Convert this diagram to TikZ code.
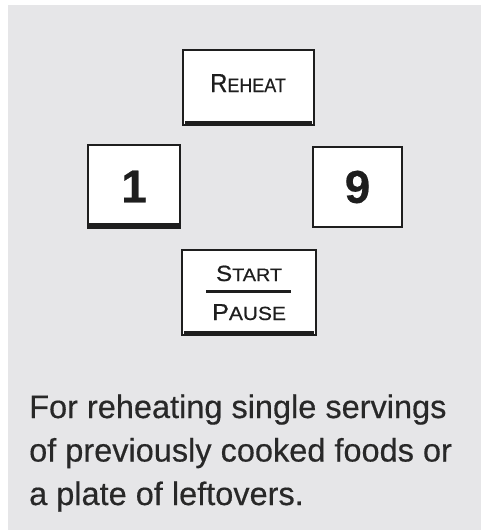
\documentclass[tikz,border=0pt]{standalone}
\usepackage{fontspec}
\setmainfont[FakeBold=0.4]{Liberation Sans}
\newfontfamily\keyfont[FakeStretch=0.92,FakeBold=0.6]{Liberation Sans}
\newfontfamily\widekeyfont[FakeStretch=1.1,FakeBold=0.6]{Liberation Sans}
\usetikzlibrary{positioning}
\definecolor{panelgray}{RGB}{230,230,232}
\definecolor{keyline}{RGB}{30,30,30}
\definecolor{textgray}{RGB}{40,40,40}

\begin{document}
\begin{tikzpicture}[
    x=1pt, y=-1pt,
key/.style={draw=keyline, line width=2pt, fill=white, inner sep=0pt},
keylabel/.style={anchor=base, inner sep=0pt, text=keyline},
digit/.style={key, text=keyline, font=\fontsize{46}{46}\selectfont\bfseries},
desc/.style={anchor=base west, inner sep=0pt, text=textgray,
    font=\fontsize{32.5}{42}\selectfont},
]
\useasboundingbox (0,0) rectangle (481,530);
\fill[panelgray] (8,5) rectangle (481,530);

% keys
\node[key, minimum width=131pt, minimum height=75pt] (reheat) at (248,87) {};
\node[digit, minimum width=92pt, minimum height=83pt] (one) at (134,186.5) {1};
\node[digit, minimum width=89pt, minimum height=80pt] (nine) at (357.5,187) {9};
\node[key, minimum width=134pt, minimum height=85pt] (start) at (249,292.5) {};

% key labels
\node[keylabel, font=\keyfont] (reheatlbl) at ([yshift=-5pt]reheat.center)
    {\fontsize{26}{26}\selectfont R\fontsize{19.5}{19.5}\selectfont EHEAT};
\node[keylabel, font=\widekeyfont] (startlbl) at ([yshift=11.5pt]start.center)
    {\fontsize{22}{22}\selectfont S\fontsize{18}{18}\selectfont TART};
\node[keylabel, font=\widekeyfont] (pauselbl) at ([yshift=-27.5pt]start.center)
    {\fontsize{23}{23}\selectfont P\fontsize{19}{19}\selectfont AUSE};
\draw[keyline, line width=3pt] ([xshift=-43pt,yshift=1.5pt]start.center)
    -- ([xshift=42pt,yshift=1.5pt]start.center);

% pressed bottom edges
\fill[keyline] ([xshift=3pt,yshift=1pt]reheat.south west) rectangle ([xshift=-3pt,yshift=5pt]reheat.south east);
\fill[keyline] (one.south west) rectangle ([yshift=6pt]one.south east);
\fill[keyline] ([xshift=1pt]nine.south west) rectangle ([xshift=-1pt,yshift=1.5pt]nine.south east);
\fill[keyline] ([xshift=3pt,yshift=1pt]start.south west) rectangle ([xshift=-3pt,yshift=5pt]start.south east);

% description
\foreach \txt [count=\i] in {For reheating single servings,
    of previously cooked foods or, a plate of leftovers.}
  \node[desc] (line\i) at (29,374.5+43.5*\i) {\txt};
\end{tikzpicture}
\end{document}
